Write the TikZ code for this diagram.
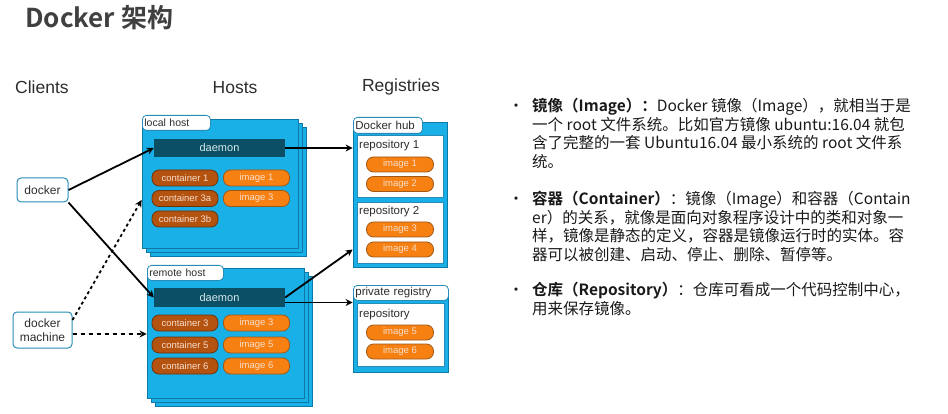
\documentclass[tikz,border=0pt]{standalone}
\usepackage{fontspec}
\setmainfont{Liberation Sans}
\newfontfamily\cjk{Noto Sans CJK SC}[BoldFont={Noto Sans CJK SC Bold}]
\usetikzlibrary{arrows.meta}
\definecolor{hostblue}{RGB}{24,176,230}
\definecolor{hostedge}{RGB}{16,120,165}
\definecolor{tabedge}{RGB}{40,140,185}
\definecolor{daemonc}{RGB}{10,79,99}
\definecolor{contdark}{RGB}{180,82,16}
\definecolor{contedge}{RGB}{110,50,8}
\definecolor{imgorange}{RGB}{247,128,18}
\definecolor{imgedge}{RGB}{160,88,22}
\definecolor{pilltext}{RGB}{246,222,204}
\definecolor{textdark}{RGB}{45,45,45}
\definecolor{titlec}{RGB}{64,64,64}
\begin{document}
\begin{tikzpicture}[x=1pt,y=-1pt,
  hostlayer/.style={fill=hostblue,draw=hostedge,line width=0.8pt,rectangle,inner sep=0pt},
  tab/.style={draw=tabedge,fill=white,rounded corners=4pt,line width=0.8pt,inner sep=0pt,anchor=north west,
    font=\fontsize{10.5}{12}\selectfont,text=textdark,align=left,inner xsep=2pt},
  pill/.style={rounded corners=7pt,minimum width=66pt,minimum height=16pt,inner sep=0pt,
    font=\fontsize{9.5}{11}\selectfont,text=pilltext,line width=0.8pt},
  cont/.style={pill,fill=contdark,draw=contedge},
  img/.style={pill,fill=imgorange,draw=imgedge},
  daemonbox/.style={fill=daemonc,minimum width=131pt,minimum height=18.5pt,inner sep=0pt,
    font=\fontsize{11}{12}\selectfont,text=pilltext!60!hostblue!40!white},
  client/.style={draw=tabedge,fill=white,rounded corners=4pt,line width=1pt,inner sep=0pt,
    font=\fontsize{12}{14}\selectfont,text=textdark,align=center},
  repobox/.style={fill=white,draw=tabedge,line width=0.6pt,inner sep=0pt},
  repolabel/.style={anchor=west,font=\fontsize{11.5}{13}\selectfont,text=textdark,inner sep=0pt},
  head/.style={font=\fontsize{17.5}{19}\selectfont,text=textdark,inner sep=0pt},
  arr/.style={line width=1.8pt,-{Stealth[length=7pt,width=7pt]}},
  dotarr/.style={arr,dash pattern=on 3pt off 3pt},
  dasharr/.style={arr,dash pattern=on 4pt off 4pt},
  txt/.style={anchor=base west,inner sep=0pt,font=\cjk\fontsize{15.5}{18}\selectfont,text=black!90},
  bullet/.style={anchor=base,inner sep=0pt,font=\cjk\fontsize{15.5}{18}\selectfont,text=black!90}
]
\useasboundingbox (0,0) rectangle (948,414);

% title
\node[anchor=base west,inner sep=0pt,font=\cjk\bfseries\fontsize{26}{30}\selectfont,text=titlec] (title) at (25,28) {Docker 架构};

% column heads
\node[head,anchor=west] (clients) at (15,87) {Clients};
\node[head] (hosts) at (235,88) {Hosts};
\node[head] (regs) at (401,87) {Registries};

% local host stack
\node[hostlayer,minimum width=156pt,minimum height=129pt] (lh3) at (228,191.5) {};
\node[hostlayer,minimum width=156pt,minimum height=129pt] (lh2) at (224,187.5) {};
\node[hostlayer,minimum width=156pt,minimum height=129pt] (lhost) at (220,183.5) {};
\node[tab,minimum width=68pt,minimum height=15pt,text width=64pt] (ltab) at (142,115) {local host};
\node[daemonbox] (ldaemon) at (219.5,148) {daemon};
\node[cont] (c1) at (185,178) {container 1};
\node[img] (li1) at (256.5,178) {image 1};
\node[cont] (c3a) at (185,198.5) {container 3a};
\node[img] (li3) at (256.5,198.5) {image 3};
\node[cont] (c3b) at (185,219) {container 3b};

% remote host stack
\node[hostlayer,minimum width=157pt,minimum height=130pt] (rh3) at (233.5,341) {};
\node[hostlayer,minimum width=157pt,minimum height=130pt] (rh2) at (229.5,337) {};
\node[hostlayer,minimum width=157pt,minimum height=130pt] (rhost) at (225.5,333) {};
\node[tab,minimum width=76pt,minimum height=15pt,text width=72pt] (rtab) at (147,265) {remote host};
\node[daemonbox] (rdaemon) at (219.5,297.5) {daemon};
\node[cont] (c3) at (185,323) {container 3};
\node[img] (ri3) at (256.5,323) {image 3};
\node[cont] (c5) at (185,345) {container 5};
\node[img] (ri5) at (256.5,345) {image 5};
\node[cont] (c6) at (185,366) {container 6};
\node[img] (ri6) at (256.5,366) {image 6};

% Docker hub
\node[hostlayer,minimum width=94pt,minimum height=145pt] (hub) at (400,194.5) {};
\node[tab,minimum width=69pt,minimum height=16pt,text width=65pt,font=\fontsize{11.5}{13}\selectfont] (hubtab) at (353,117) {Docker hub};
\node[repobox,minimum width=86pt,minimum height=62pt] (repo1) at (400,166) {};
\node[repolabel] (r1l) at (359,146) {repository 1};
\node[img,minimum width=67pt,minimum height=15pt] (hi1) at (400,164.5) {image 1};
\node[img,minimum width=67pt,minimum height=15pt] (hi2) at (400,184) {image 2};
\node[repobox,minimum width=86pt,minimum height=61pt] (repo2) at (400,232.5) {};
\node[repolabel] (r2l) at (359,212) {repository 2};
\node[img,minimum width=67pt,minimum height=15pt] (hi3) at (400,229.5) {image 3};
\node[img,minimum width=67pt,minimum height=15pt] (hi4) at (400,249.5) {image 4};

% private registry
\node[hostlayer,minimum width=95pt,minimum height=82pt] (priv) at (400.5,331) {};
\node[tab,minimum width=95pt,minimum height=15pt,text width=91pt,font=\fontsize{11.5}{13}\selectfont] (privtab) at (353,285) {private registry};
\node[repobox,minimum width=87pt,minimum height=63pt] (repo3) at (400.5,334.5) {};
\node[repolabel] (r3l) at (359,315) {repository};
\node[img,minimum width=67pt,minimum height=15pt] (pi5) at (400,332.5) {image 5};
\node[img,minimum width=67pt,minimum height=15pt] (pi6) at (400,351.5) {image 6};

% clients
\node[client,minimum width=51pt,minimum height=24pt] (docker) at (42.5,190) {docker};
\node[client,minimum width=59pt,minimum height=36pt] (dmachine) at (42.5,330) {docker\\machine};

% connectors
\draw[arr] (docker.east) -- (ldaemon.west);
\draw[arr] (docker.south east) -- (rdaemon.west);
\draw[dotarr] ([yshift=10pt]dmachine.east) -- ([yshift=-16.5pt]lhost.west);
\draw[dasharr] ([yshift=-4pt]dmachine.east) -- ([yshift=-4pt]dmachine.east -| rhost.west);
\draw[arr] (ldaemon.east) -- (ldaemon.east -| hub.west);
\draw[arr] (rdaemon.east) -- (hub.west |- hi4);
\draw[arr] ([yshift=-5pt]rdaemon.east) -- ([yshift=-5pt]rdaemon.east -| priv.west);

% right text
\node[bullet] (b1) at (516,111.5) {•};
\node[txt] (p1a) at (532,111.5) {\textbf{镜像（Image）：}Docker 镜像（Image），就相当于是};
\node[txt] (p1b) at (532,130.2) {一个 root 文件系统。比如官方镜像 ubuntu:16.04 就包};
\node[txt] (p1c) at (532,148.9) {含了完整的一套 Ubuntu16.04 最小系统的 root 文件系};
\node[txt] (p1d) at (532,167.6) {统。};

\node[bullet] (b2) at (516,204.5) {•};
\node[txt] (p2a) at (532,204.5) {\textbf{容器（Container）}：镜像（Image）和容器（Contain};
\node[txt] (p2b) at (532,223.2) {er）的关系，就像是面向对象程序设计中的类和对象一};
\node[txt] (p2c) at (532,241.9) {样，镜像是静态的定义，容器是镜像运行时的实体。容};
\node[txt] (p2d) at (532,260.6) {器可以被创建、启动、停止、删除、暂停等。};

\node[bullet] (b3) at (516,295.5) {•};
\node[txt] (p3a) at (532,295.5) {\textbf{仓库（Repository）}：仓库可看成一个代码控制中心，};
\node[txt] (p3b) at (532,314.2) {用来保存镜像。};
\end{tikzpicture}
\end{document}
